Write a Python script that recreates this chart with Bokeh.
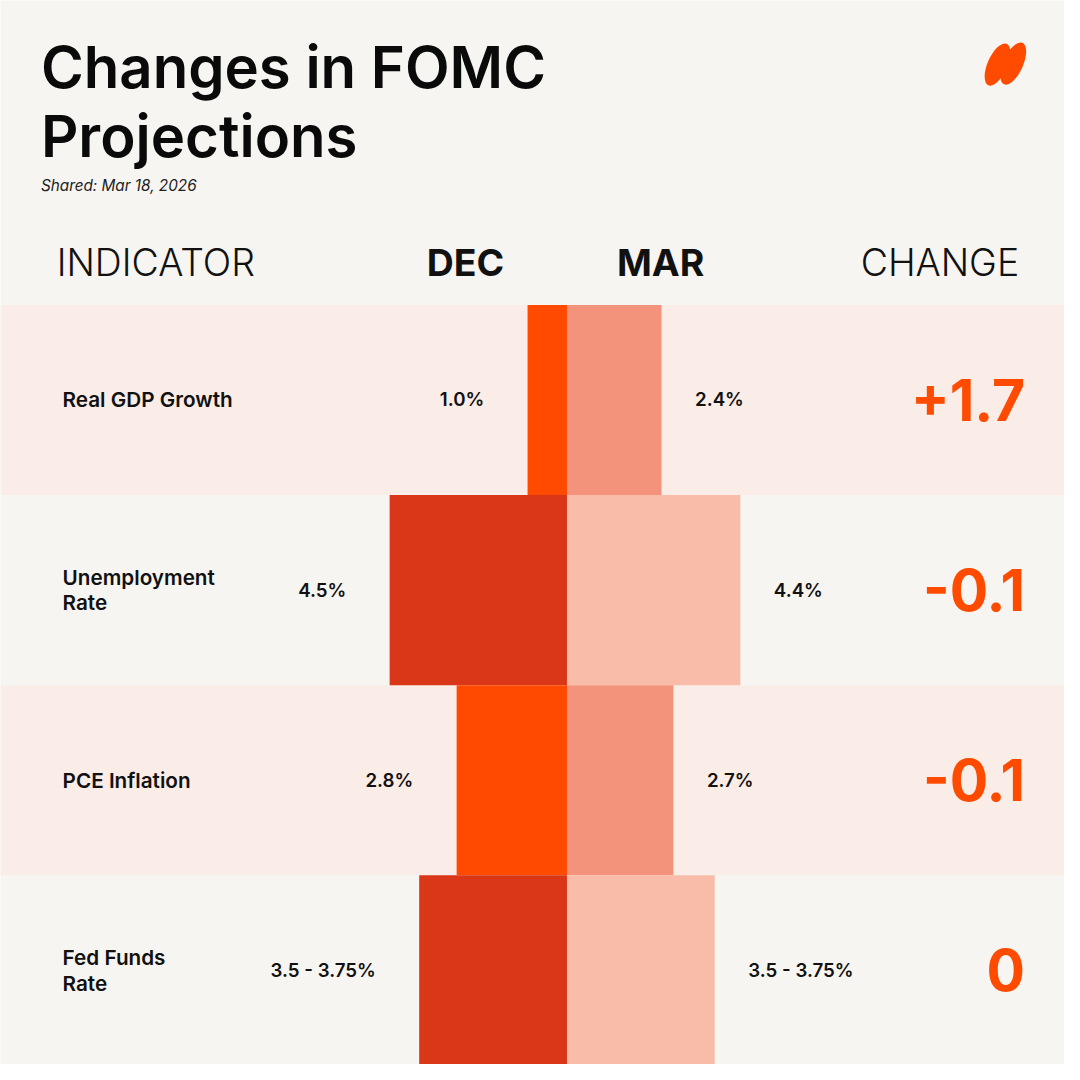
from bokeh.plotting import figure
from bokeh.models import Range1d, ColumnDataSource
from bokeh.core.properties import value
from bokeh.embed import file_html
from bokeh.resources import INLINE
import math

# ---------------- data ----------------
indicators = ["Real GDP Growth", "Unemployment\nRate", "PCE Inflation", "Fed Funds\nRate"]
dec_values = [1.0, 4.5, 2.8, 3.75]
mar_values = [2.4, 4.4, 2.7, 3.75]
dec_labels = ["1.0%", "4.5%", "2.8%", "3.5 - 3.75%"]
mar_labels = ["2.4%", "4.4%", "2.7%", "3.5 - 3.75%"]
change_labels = ["+1.7", "-0.1", "-0.1", "0"]
header_labels = ["INDICATOR", "DEC", "MAR", "CHANGE"]
title_lines = ["Changes in FOMC", "Projections"]
subtitle = "Shared: Mar 18, 2026"

# ---------------- layout / style ----------------
W = H = 1064          # fits the 1080 window with the 8px page margin
REF = 1080.0          # design grid
S = W / REF
CENTER = 575
PX_PER_PCT = 40.0
ROW_TOP = 309
ROW_H = 193
BG = "#F7F5F1"
ROW_PINK = "#FAECE7"
ORANGE = "#FF4B00"
DEC_COLORS = ["#FF4A00", "#DA3618"]
MAR_COLORS = ["#F4937B", "#F9BCA9"]
FONT = value("Inter")
FONT_SEMI = value("'Inter SemiBold', Inter")
FONT_LIGHT = value("'Inter Light', Inter")


def fs(px):
    return f"{px * S:.1f}px"


p = figure(width=W, height=H, output_backend="svg", toolbar_location=None,
           x_range=Range1d(0, REF), y_range=Range1d(REF, 0),
           x_axis_type=None, y_axis_type=None, min_border=0,
           background_fill_color=BG, border_fill_color=BG, outline_line_color=None)
p.extra_x_ranges = {"pct": Range1d((0 - CENTER) / PX_PER_PCT, (REF - CENTER) / PX_PER_PCT)}
p.extra_y_ranges = {"row": Range1d((REF - ROW_TOP) / ROW_H, (0 - ROW_TOP) / ROW_H)}

n = len(indicators)
idx = list(range(n))
src = ColumnDataSource(dict(
    top=[float(i) for i in idx],
    bottom=[float(i + 1) for i in idx],
    mid=[i + 0.5 for i in idx],
    dec_left=[-v for v in dec_values],
    mar_right=mar_values,
    dec_lab_x=[-(v + 1.1) for v in dec_values],
    mar_lab_x=[v + 0.85 for v in mar_values],
    dec_labels=dec_labels,
    mar_labels=mar_labels,
    indicators=indicators,
    change=change_labels,
    row_bg=[ROW_PINK if i % 2 == 0 else BG for i in idx],
    dec_color=[DEC_COLORS[i % 2] for i in idx],
    mar_color=[MAR_COLORS[i % 2] for i in idx],
))

# row stripes
p.quad(left=0, right=REF, top="top", bottom="bottom", source=src,
       y_range_name="row", fill_color="row_bg", line_color=None)

# bars
p.quad(left="dec_left", right=0, top="top", bottom="bottom", source=src,
       x_range_name="pct", y_range_name="row", fill_color="dec_color", line_color=None)
p.quad(left=0, right="mar_right", top="top", bottom="bottom", source=src,
       x_range_name="pct", y_range_name="row", fill_color="mar_color", line_color=None)

# value labels
p.text(x="dec_lab_x", y="mid", text="dec_labels", source=src, x_range_name="pct", y_range_name="row",
       text_font=FONT_SEMI, text_font_size=fs(19), text_font_style="bold", text_color="#111111",
       text_align="right", text_baseline="middle")
p.text(x="mar_lab_x", y="mid", text="mar_labels", source=src, x_range_name="pct", y_range_name="row",
       text_font=FONT_SEMI, text_font_size=fs(19), text_font_style="bold", text_color="#111111",
       text_align="left", text_baseline="middle")

# indicator labels
p.text(x=63, y="mid", text="indicators", source=src, y_range_name="row",
       text_font=FONT_SEMI, text_font_size=fs(21), text_font_style="bold", text_color="#111111",
       text_align="left", text_baseline="middle", text_line_height=1.02)

# change labels
p.text(x=1040, y="mid", text="change", source=src, y_range_name="row",
       text_font=FONT, text_font_size=fs(58), text_font_style="bold", text_color=ORANGE,
       text_align="right", text_baseline="middle")

# headers
p.text(x=[57], y=[266], text=[header_labels[0]], text_font=FONT_LIGHT, text_font_size=fs(38),
       text_color="#111111", text_align="left", text_baseline="middle")
p.text(x=[472, 670], y=[266, 266], text=header_labels[1:3], text_font=FONT, text_font_size=fs(38),
       text_font_style="bold", text_color="#111111", text_align="center", text_baseline="middle")
p.text(x=[1034], y=[266], text=[header_labels[3]], text_font=FONT_LIGHT, text_font_size=fs(38),
       text_color="#111111", text_align="right", text_baseline="middle")

# title & subtitle
p.text(x=[41, 41], y=[67.5, 137.5], text=title_lines, text_font=FONT_SEMI, text_font_size=fs(59),
       text_font_style="bold", text_color="#0A0A0A", text_align="left", text_baseline="middle")
p.text(x=[41], y=[188], text=[subtitle], text_font=FONT, text_font_size=fs(15.5),
       text_font_style="italic", text_color="#222222", text_align="left", text_baseline="middle")

# logo
p.ellipse(x=[1012, 1028], y=[65, 64], width=46 * S, height=20 * S, angle=math.radians(66),
          width_units="screen", height_units="screen", fill_color=ORANGE, line_color=None)

open("out.html", "w").write(file_html(p, INLINE))
